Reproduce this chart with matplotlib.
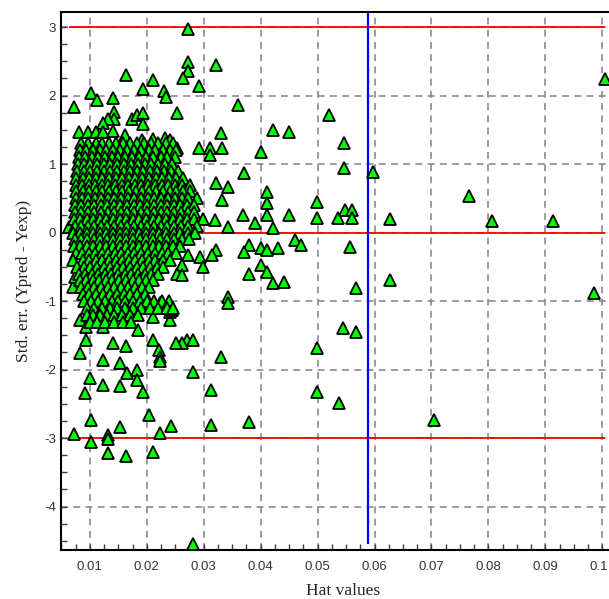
import matplotlib
matplotlib.use("Agg")
import matplotlib.pyplot as plt
from matplotlib.ticker import MultipleLocator, FixedLocator
import matplotlib.transforms as mtransforms
import numpy as np

plt.rcParams['axes.unicode_minus'] = False

# dense core of the Williams plot: residual row -> hat values (units of 1e-4)
core_rows = {
    1.30: [85, 97, 110, 121, 133, 146, 158, 170, 182, 195, 207, 220, 233, 246],
    1.20: [82, 93, 105, 118, 129, 141, 153, 166, 178, 190, 203, 215, 228, 240, 252],
    1.10: [80, 91, 103, 114, 126, 139, 150, 162, 174, 187, 199, 211, 224, 236, 249],
    1.00: [79, 90, 101, 113, 125, 136, 148, 160, 172, 184, 196, 208, 220, 232, 244],
    0.90: [78, 89, 100, 112, 124, 135, 147, 159, 171, 183, 194, 206, 218, 230, 242, 254],
    0.80: [76, 87, 99, 110, 122, 134, 145, 157, 168, 180, 192, 204, 216, 227, 239, 251, 263],
    0.70: [75, 86, 98, 109, 121, 132, 144, 156, 167, 179, 190, 202, 214, 226, 238, 250, 262, 275],
    0.60: [76, 88, 99, 111, 122, 134, 146, 157, 169, 181, 192, 204, 216, 228, 240, 252, 264, 276],
    0.50: [75, 86, 97, 109, 120, 132, 143, 155, 167, 178, 190, 202, 213, 225, 237, 249, 261, 273, 288],
    0.40: [73, 84, 96, 107, 119, 130, 142, 153, 165, 177, 188, 200, 212, 224, 235, 247, 259, 271, 283],
    0.30: [74, 85, 97, 108, 120, 131, 143, 155, 166, 178, 190, 201, 213, 225, 236, 248, 260, 272, 282],
    0.20: [72, 83, 95, 106, 118, 129, 141, 153, 164, 176, 187, 199, 211, 222, 234, 246, 258, 270, 283, 298],
    0.10: [73, 84, 96, 107, 119, 130, 142, 154, 165, 177, 189, 200, 212, 224, 236, 248, 260, 273, 288],
    0.00: [71, 82, 94, 105, 117, 128, 140, 152, 163, 175, 186, 198, 210, 222, 234, 247, 259, 272, 284],
    -0.10: [73, 84, 95, 107, 118, 130, 141, 153, 164, 176, 188, 199, 211, 223, 235, 248, 262, 274],
    -0.20: [72, 83, 95, 106, 118, 129, 141, 152, 164, 175, 187, 199, 210, 222, 234, 246, 258],
    -0.30: [75, 86, 98, 109, 121, 132, 144, 155, 167, 178, 190, 202, 214, 226, 238, 251],
    -0.40: [70, 87, 98, 110, 121, 133, 145, 156, 168, 180, 191, 203, 215, 228, 241],
    -0.50: [78, 89, 101, 112, 124, 135, 147, 158, 170, 182, 193, 205, 217, 229],
    -0.60: [80, 91, 103, 114, 126, 137, 149, 161, 172, 184, 196, 208, 220],
    -0.70: [82, 93, 105, 116, 128, 139, 151, 163, 175, 187, 199, 211],
    -0.80: [85, 96, 108, 119, 131, 143, 155, 167, 179, 191, 203],
    -0.90: [88, 99, 111, 123, 135, 147, 159, 171, 183, 196],
    -1.00: [90, 102, 114, 126, 138, 150, 162, 175, 188, 200, 213, 226, 239],
    -1.10: [95, 108, 121, 135, 148, 162, 176, 190, 205, 220, 235, 246],
    -1.20: [95, 106, 118, 130, 143, 156, 170, 184],
    -1.30: [100, 113, 127, 142, 158, 172],
}

# scattered compounds outside the core (hat value, std. residual)
hat_sparse = [
    0.0272, 0.0272, 0.0272, 0.0263, 0.0292, 0.0322, 0.0163, 0.0211, 0.0193, 0.0231,
    0.0233, 0.0102, 0.0112, 0.0141, 0.0072, 0.0253, 0.0143, 0.0143, 0.0174, 0.0183,
    0.0194, 0.0193, 0.0132, 0.0123, 0.0081, 0.0096, 0.0110, 0.0123, 0.0141, 0.0162,
    0.0192, 0.0211, 0.0232, 0.0241, 0.0253,
    0.0361, 0.0520, 0.0421, 0.0450, 0.0547, 0.0330, 0.0292, 0.0311, 0.0311, 0.0332,
    0.0401, 0.0371, 0.0547, 0.0598, 0.0322, 0.0343, 0.0411, 0.0499, 0.0332, 0.0411,
    0.0369, 0.0390, 0.0411, 0.0450, 0.0499, 0.0536, 0.0548, 0.0561, 0.0561, 0.0627,
    0.0421, 0.0343, 0.0320, 0.0766, 0.0806, 0.0914, 0.1004, 0.0985, 0.0705,
    0.0460, 0.0471, 0.0380, 0.0371, 0.0401, 0.0411, 0.0431, 0.0557, 0.0322,
    0.0272, 0.0293, 0.0299, 0.0401, 0.0411, 0.0380, 0.0421, 0.0441, 0.0568, 0.0627,
    0.0343, 0.0262, 0.0253, 0.0262, 0.0315,
    0.0343, 0.0545, 0.0568, 0.0270, 0.0281, 0.0262, 0.0330, 0.0499, 0.0281, 0.0313,
    0.0499, 0.0538, 0.0313, 0.0380, 0.0281,
    0.0070, 0.0074, 0.0083, 0.0093, 0.0211, 0.0241, 0.0241, 0.0093, 0.0083, 0.0141,
    0.0163, 0.0211, 0.0251, 0.0123, 0.0202, 0.0223, 0.0237, 0.0244, 0.0185, 0.0221,
    0.0223, 0.0223, 0.0123, 0.0153, 0.0100, 0.0165, 0.0183, 0.0183, 0.0091, 0.0123,
    0.0153, 0.0193, 0.0102, 0.0203, 0.0072, 0.0102, 0.0132, 0.0132, 0.0153, 0.0223,
    0.0242, 0.0132, 0.0163, 0.0211, 0.0063,
]
res_sparse = [
    2.97, 2.49, 2.36, 2.25, 2.14, 2.45, 2.30, 2.22, 2.09, 2.07,
    1.98, 2.04, 1.93, 1.96, 1.83, 1.74, 1.76, 1.66, 1.66, 1.72,
    1.74, 1.58, 1.66, 1.60, 1.47, 1.47, 1.46, 1.47, 1.48, 1.42,
    1.35, 1.36, 1.38, 1.35, 1.23,
    1.86, 1.72, 1.50, 1.47, 1.31, 1.45, 1.23, 1.23, 1.13, 1.23,
    1.18, 0.87, 0.94, 0.88, 0.72, 0.67, 0.59, 0.45, 0.47, 0.43,
    0.26, 0.14, 0.26, 0.26, 0.21, 0.21, 0.33, 0.33, 0.21, 0.19,
    0.06, 0.08, 0.18, 0.54, 0.17, 0.17, 2.24, -0.88, -2.73,
    -0.11, -0.18, -0.18, -0.28, -0.23, -0.26, -0.23, -0.21, -0.26,
    -0.33, -0.36, -0.50, -0.47, -0.57, -0.60, -0.74, -0.72, -0.81, -0.69,
    -0.94, -0.47, -0.60, -0.62, -0.33,
    -1.03, -1.39, -1.45, -1.57, -1.57, -1.61, -1.82, -1.69, -2.03, -2.30,
    -2.33, -2.49, -2.81, -2.77, -4.55,
    -0.79, -0.65, -1.28, -1.38, -1.23, -1.28, -1.16, -1.57, -1.76, -1.62,
    -1.66, -1.57, -1.62, -1.38, -1.03, -1.03, -1.05, -1.13, -1.43, -1.72,
    -1.82, -1.88, -1.86, -1.91, -2.12, -2.05, -2.01, -2.15, -2.35, -2.22,
    -2.24, -2.33, -2.74, -2.66, -2.94, -3.06, -2.96, -3.01, -2.84, -2.93,
    -2.83, -3.22, -3.27, -3.20, 0.08,
]

h_star = 0.0588
res_limits = [-3, 0, 3]

hat = list(hat_sparse)
res = list(res_sparse)
for r, xs in core_rows.items():
    hat += [v * 1e-4 for v in xs]
    res += [r] * len(xs)
hat = np.array(hat)
res = np.array(res)

fig = plt.figure(figsize=(6.09, 5.99), dpi=100)
ax = fig.add_axes([61 / 609, 49 / 599, 564 / 609, 538 / 599])

ax.set_xlim(0.00492, 0.1040)
ax.set_ylim(-4.635, 3.219)

ax.grid(True, which='major', linestyle=(0, (4.5, 3.5)), color='#80808f', linewidth=1.1)
ax.set_axisbelow(True)

for r in res_limits:
    ax.hlines(r, hat.min(), hat.max(), colors='#ff0000', linewidth=1.3, zorder=2)
ax.vlines(h_star, -4.55, 3.219, colors='#0000ff', linewidth=1.6, zorder=2)

ax.plot(hat, res, linestyle='none', marker='^', markersize=8,
        markerfacecolor='#00ff00', markeredgecolor='black', markeredgewidth=1.3, zorder=3)

ax.xaxis.set_major_locator(FixedLocator([0.01, 0.02, 0.03, 0.04, 0.05, 0.06, 0.07, 0.08, 0.09, 0.1]))
ax.xaxis.set_minor_locator(MultipleLocator(0.0025))
ax.yaxis.set_major_locator(MultipleLocator(1))
ax.yaxis.set_minor_locator(MultipleLocator(0.25))
ax.set_xticklabels(['0.01', '0.02', '0.03', '0.04', '0.05', '0.06', '0.07', '0.08', '0.09', '0.1'])
ax.tick_params(which='both', direction='in', length=4, width=1.0, color='#404040',
               labelsize=9.5, labelcolor='#333333', top=False, right=False)
ax.tick_params(axis='x', pad=8)
for lab in ax.get_xticklabels() + ax.get_yticklabels():
    lab.set_family('Liberation Sans')
# keep the last x label inside the canvas
last = ax.get_xticklabels()[-1]
last.set_transform(last.get_transform() + mtransforms.ScaledTranslation(-3 / 100, 0, fig.dpi_scale_trans))

for s in ax.spines.values():
    s.set_linewidth(1.5)
    s.set_color('black')

ax.set_xlabel('Hat values', family='Liberation Serif', fontsize=12.5, color='#222222', labelpad=7)
ax.set_ylabel('Std. err. (Ypred - Yexp)', family='Liberation Serif', fontsize=12.5,
              color='#222222', labelpad=9)

fig.savefig('out.png', dpi=100)
